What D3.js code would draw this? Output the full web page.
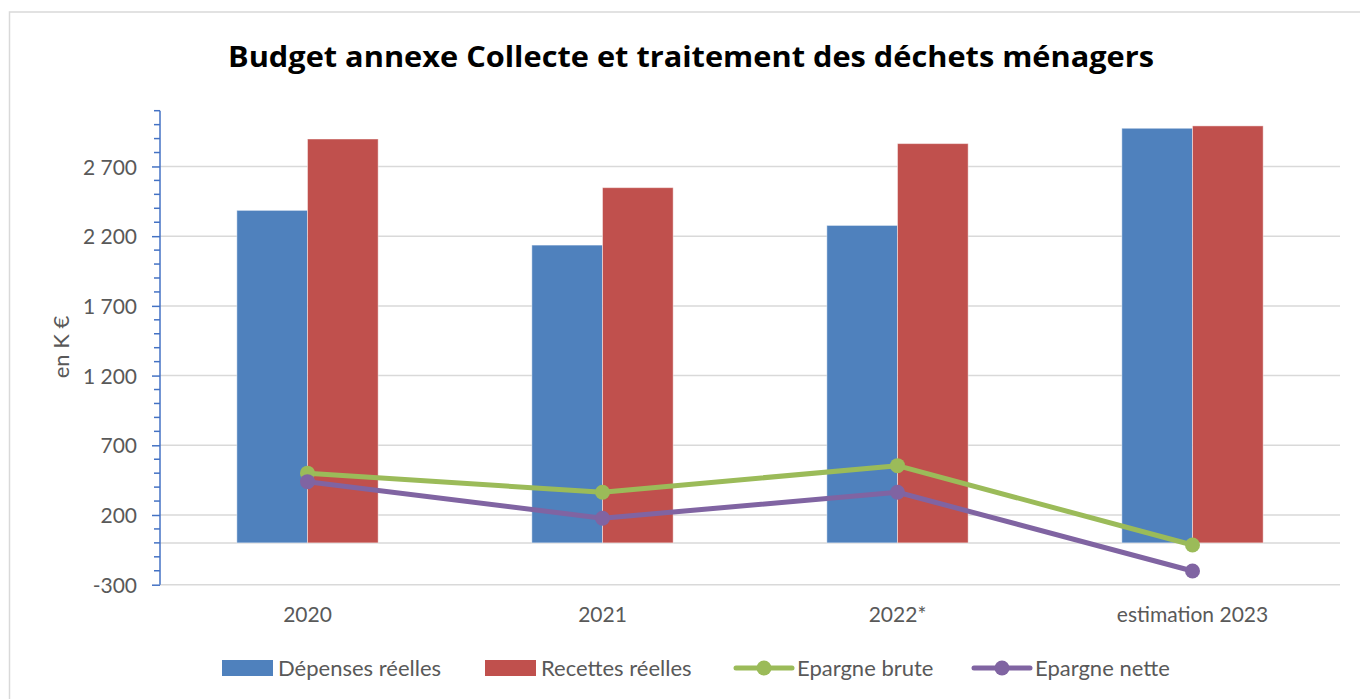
<!DOCTYPE html>
<html><head><meta charset="utf-8">
<script src="https://cdn.jsdelivr.net/npm/d3@7"></script>
<style>
html,body{margin:0;padding:0;background:#fff;}
svg{display:block;}
</style></head>
<body>
<svg id="chart" width="1360" height="699"></svg>
<script>
const categories = ["2020", "2021", "2022*", "estimation 2023"];
const depenses = [2385, 2136, 2277, 2974];
const recettes = [2897, 2548, 2864, 2991];
const epargneBrute = [500, 363, 554, -15];
const epargneNette = [439, 177, 363, -202];
const yTicks = [-300, 200, 700, 1200, 1700, 2200, 2700];
const yDomain = [-300, 3100];

const FONT = "Lato, 'Open Sans', sans-serif";
const TXT = "#595959";
const C = {dep:"#4F81BD", rec:"#C0504D", brute:"#9BBB59", nette:"#8064A2"};

const svg = d3.select("#chart");
// outer chart border
svg.append("rect").attr("x",9.5).attr("y",12).attr("width",1400).attr("height",800)
  .attr("fill","#fff").attr("stroke","#d9d9d9").attr("stroke-width",1.5);

const plot = {left:160, right:1340, top:110.7, bottom:584.7};
const x = d3.scaleBand().domain(categories).range([plot.left, plot.right]).paddingInner(0).paddingOuter(0);
const y = d3.scaleLinear().domain(yDomain).range([plot.bottom, plot.top]);
const barW = x.bandwidth()*0.2395;

// gridlines
svg.append("g").selectAll("line").data(yTicks.concat([0])).join("line")
  .attr("x1",plot.left).attr("x2",plot.right)
  .attr("y1",d=>y(d)).attr("y2",d=>y(d))
  .attr("stroke","#d9d9d9").attr("stroke-width",1.5);

// bars
const gBars = svg.append("g");
categories.forEach((c,i)=>{
  const cx = x(c)+x.bandwidth()/2;
  gBars.append("rect").attr("x",cx-barW).attr("width",barW)
    .attr("y",y(depenses[i])).attr("height",y(0)-y(depenses[i]))
    .attr("fill",C.dep).attr("stroke","rgba(255,255,255,0.45)").attr("stroke-width",1);
  gBars.append("rect").attr("x",cx).attr("width",barW)
    .attr("y",y(recettes[i])).attr("height",y(0)-y(recettes[i]))
    .attr("fill",C.rec).attr("stroke","rgba(255,255,255,0.45)").attr("stroke-width",1);
});

// y axis
const yAxis = d3.axisLeft(y).tickValues(yTicks).tickSize(8)
  .tickFormat(d=>d3.format(",")(d).replace(/,/g," ").replace("\u2212","-"));
const gy = svg.append("g").attr("transform",`translate(${plot.left},0)`).call(yAxis);
gy.select(".domain").attr("stroke","#4472C4").attr("stroke-width",1.5).attr("d",`M0,${plot.top}V${plot.bottom}`);
gy.selectAll(".tick line").attr("stroke","#4472C4").attr("stroke-width",1.5);
gy.selectAll(".tick text").attr("fill",TXT).style("font-family",FONT).style("font-size","21px").attr("x",-23).attr("dy","0.36em");
// minor ticks
const minor = d3.range(-300, 3101, 100).filter(v=>!yTicks.includes(v));
svg.append("g").selectAll("line").data(minor).join("line")
  .attr("x1",plot.left-6).attr("x2",plot.left)
  .attr("y1",d=>y(d)).attr("y2",d=>y(d))
  .attr("stroke","#4472C4").attr("stroke-width",1.5);

// x category labels
const xAxis = d3.axisBottom(x).tickSize(0);
const gx = svg.append("g").attr("transform",`translate(0,${plot.bottom})`).call(xAxis);
gx.select(".domain").remove();
gx.selectAll(".tick text").attr("fill",TXT).style("font-family",FONT).style("font-size","21px").attr("y",22);

// lines
const line = d3.line().x((d,i)=>x(categories[i])+x.bandwidth()/2).y(d=>y(d));
[[epargneBrute,C.brute],[epargneNette,C.nette]].forEach(([data,col])=>{
  svg.append("path").datum(data).attr("d",line).attr("fill","none")
    .attr("stroke",col).attr("stroke-width",5).attr("stroke-linejoin","round");
  svg.append("g").selectAll("circle").data(data).join("circle")
    .attr("cx",(d,i)=>x(categories[i])+x.bandwidth()/2).attr("cy",d=>y(d))
    .attr("r",7.5).attr("fill",col);
});

// title
svg.append("text").attr("x",691).attr("y",67).attr("text-anchor","middle")
  .style("font-family","'Open Sans', Lato, sans-serif").style("font-weight","bold").style("font-size","29px")
  .attr("textLength",926).attr("lengthAdjust","spacingAndGlyphs")
  .attr("fill","#000").text("Budget annexe Collecte et traitement des déchets ménagers");

// y axis title
svg.append("text").attr("transform","translate(69,347) rotate(-90)").attr("text-anchor","middle")
  .style("font-family",FONT).style("font-size","22px").attr("fill",TXT).text("en K €");

// legend
const legendItems = [
  {name:"Dépenses réelles", type:"rect", col:C.dep, x0:222},
  {name:"Recettes réelles", type:"rect", col:C.rec, x0:485},
  {name:"Epargne brute", type:"line", col:C.brute, x0:736},
  {name:"Epargne nette", type:"line", col:C.nette, x0:974}
];
const ly = 668;
legendItems.forEach(it=>{
  const g = svg.append("g").attr("transform",`translate(${it.x0},0)`);
  const symW = it.type==="rect"?51:56;
  if(it.type==="rect"){
    g.append("rect").attr("x",0).attr("y",ly-8).attr("width",symW).attr("height",16).attr("fill",it.col);
  } else {
    g.append("line").attr("x1",0).attr("x2",symW).attr("y1",ly).attr("y2",ly).attr("stroke",it.col).attr("stroke-width",5).attr("stroke-linecap","round");
    g.append("circle").attr("cx",symW/2).attr("cy",ly).attr("r",7.5).attr("fill",it.col);
  }
  g.append("text").attr("x",symW+5).attr("y",ly).attr("dy","0.36em")
    .style("font-family",FONT).style("font-size","22px").attr("fill",TXT).text(it.name);
});
</script>
</body></html>
